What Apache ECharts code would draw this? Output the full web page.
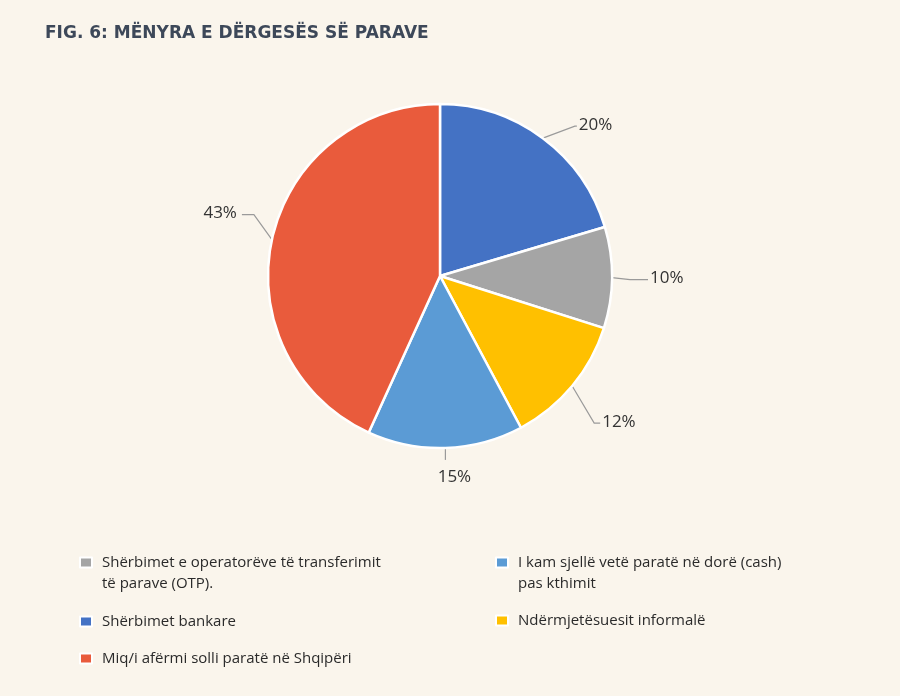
<!DOCTYPE html>
<html><head><meta charset="utf-8">
<script src="https://cdn.jsdelivr.net/npm/echarts@6/dist/echarts.min.js"></script>
<style>html,body{margin:0;padding:0;background:#FAF5EC;}#c{width:900px;height:696px;}</style>
</head><body><div id="c"></div>
<script>
// Slice order clockwise from 12 o'clock
const categories = ['Shërbimet bankare','Shërbimet e operatorëve të transferimit\ntë parave (OTP).','Ndërmjetësuesit informalë','I kam sjellë vetë paratë në dorë (cash)\npas kthimit','Miq/i afërmi solli paratë në Shqipëri'];
const values = [20.4, 9.5, 12.3, 14.6, 43.2];
const colors = ['#4472C4','#A5A5A5','#FFC000','#5B9BD5','#E95B3C'];
const title = 'FIG. 6: MËNYRA E DËRGESËS SË PARAVE';

// leader-line style offsets per slice: [dx1, dy1, dx2]
const leader = [[32,-12,2],[18,2,18],[22,37,6],[0,12,0],[-18,-25,-12]];

const font = 'Open Sans';
const legendPos = [
  {idx: 1, left: 79, top: 534, multi: true},
  {idx: 3, left: 495, top: 534, multi: true},
  {idx: 0, left: 79, top: 614},
  {idx: 2, left: 495, top: 613},
  {idx: 4, left: 79, top: 651}
];
const lh = 21;
const chart = echarts.init(document.getElementById('c'));
chart.setOption({
  backgroundColor: '#FAF5EC',
  title: {text: title, left: 40, top: 20, textStyle: {fontFamily: 'DejaVu Sans', fontWeight: 'bold', fontSize: 17, color: '#3D4859'}},
  legend: legendPos.map(p => ({
    data: [categories[p.idx]], left: p.left, top: p.top, padding: 0, orient: 'vertical',
    icon: 'rect', itemWidth: 12, itemHeight: 10, itemGap: 0, selectedMode: false,
    formatter: name => {
      const lines = name.split('\n').map(l => '{t|' + l + '}');
      if (p.multi) lines.unshift('{t| }');
      return lines.join('\n');
    },
    textStyle: {rich: {t: {fontFamily: font, fontSize: 15, color: '#2a2a2a', lineHeight: lh, padding: [0,0,0,5]}}}
  })),
  series: [{
    type: 'pie', center: [440, 276], radius: 172, startAngle: 90, clockwise: true,
    avoidLabelOverlap: false,
    itemStyle: {borderColor: '#ffffff', borderWidth: 2.5},
    label: {formatter: p => Math.round(p.value) + '%', fontFamily: font, fontSize: 17, color: '#333'},
    labelLine: {length: 10, length2: 10, lineStyle: {color: '#9a9a9a', width: 1.2}},
    labelLayout: params => {
      const pts = params.labelLinePoints;
      if (!pts) return {};
      const o = leader[params.dataIndex];
      const p0 = pts[0];
      const p1 = [p0[0] + o[0], p0[1] + o[1]];
      const p2 = [p1[0] + o[2], p1[1]];
      if (o[2] === 0) {
        return {labelLinePoints: [p0, p1, p2], x: p2[0] + 9, y: p2[1] + 9, align: 'center', verticalAlign: 'top'};
      }
      const right = o[2] > 0;
      return {labelLinePoints: [p0, p1, p2], x: p2[0] + (right ? 2 : -5), y: p2[1] - 1, align: right ? 'left' : 'right', verticalAlign: 'middle'};
    },
    emphasis: {disabled: true},
    data: categories.map((n, i) => ({name: n, value: values[i], itemStyle: {color: colors[i]}}))
  }]
});
</script></body></html>
